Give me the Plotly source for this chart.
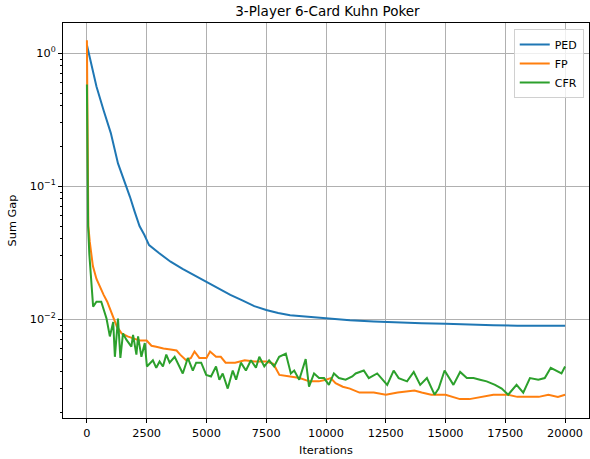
import plotly.graph_objects as go

# ---------------- data ----------------
ped_iters = [0, 200, 400, 700, 1000, 1300, 1500, 1800, 2000, 2200, 2400, 2600, 3000, 3500, 4000,
             4500, 5000, 5500, 6000, 6500, 7000, 7500, 8000, 8500, 9000, 10000, 11000, 12000,
             13000, 14000, 15000, 16000, 17000, 18000, 19000, 20000]
ped_vals = [1.15, 0.80, 0.56, 0.37, 0.25, 0.148, 0.118, 0.083, 0.064, 0.050, 0.043, 0.036, 0.0315,
            0.027, 0.0238, 0.0212, 0.0191, 0.0170, 0.0152, 0.0138, 0.0125, 0.0117, 0.0111, 0.0107,
            0.0105, 0.0101, 0.0098, 0.0096, 0.0094, 0.0093, 0.0092, 0.00905, 0.0090, 0.0089,
            0.0089, 0.0089]

fp_iters = [0, 60, 120, 250, 400, 550, 700, 850, 1000, 1100, 1250, 1450, 1700, 2000, 2200, 2500,
            2700, 2900, 3200, 3500, 3750, 3900, 4150, 4350, 4500, 4700, 5000, 5150, 5400, 5600,
            5800, 6200, 6600, 7000, 7500, 7800, 8050, 8500, 8900, 9300, 9700, 10000, 10200, 10400,
            10700, 11000, 11400, 12000, 12500, 13000, 13700, 14000, 14400, 15000, 15300, 15600,
            16000, 16600, 17000, 17600, 18000, 18500, 18900, 19300, 19700, 20000]
fp_vals = [1.25, 0.05, 0.038, 0.025, 0.020, 0.0172, 0.0152, 0.0135, 0.0115, 0.0101, 0.0088, 0.0078,
           0.0074, 0.0071, 0.0069, 0.0069, 0.0063, 0.0062, 0.0060, 0.0059, 0.0058, 0.0054, 0.0049,
           0.0051, 0.0057, 0.0051, 0.0051, 0.0057, 0.0052, 0.0052, 0.0047, 0.0047, 0.0049, 0.0048,
           0.0048, 0.0046, 0.0038, 0.0037, 0.0036, 0.0034, 0.0034, 0.0035, 0.0036, 0.0033, 0.0031,
           0.0030, 0.0028, 0.0028, 0.0027, 0.0028, 0.0029, 0.0028, 0.0027, 0.0027, 0.0026, 0.0025,
           0.0025, 0.0026, 0.0027, 0.0027, 0.0026, 0.0026, 0.0026, 0.0027, 0.0026, 0.0027]

cfr_iters = [0, 50, 100, 180, 260, 400, 600, 820, 960, 1100, 1170, 1300, 1400, 1510, 1650, 1860,
             1930, 2070, 2140, 2280, 2420, 2510, 2760, 2900, 3040, 3180, 3320, 3460, 3670, 4010,
             4220, 4430, 4570, 4780, 4990, 5190, 5400, 5540, 5680, 5890, 6100, 6240, 6440, 6650,
             6860, 7070, 7210, 7420, 7620, 7830, 8040, 8320, 8530, 8670, 8880, 9150, 9290, 9500,
             9710, 9920, 10120, 10330, 10540, 10820, 11100, 11240, 11580, 11790, 12140, 12560,
             12830, 13040, 13390, 13670, 13940, 14220, 14540, 14710, 14960, 15330, 15610, 15890,
             16170, 16440, 16720, 17070, 17350, 17620, 17970, 18250, 18530, 18880, 19150, 19400,
             19640, 19850, 20000]
cfr_vals = [0.58, 0.05, 0.031, 0.018, 0.0124, 0.0135, 0.0135, 0.0101, 0.0074, 0.0095, 0.0052,
            0.0101, 0.0051, 0.0078, 0.0070, 0.0062, 0.0076, 0.0054, 0.0074, 0.0052, 0.0066, 0.0044,
            0.0049, 0.0043, 0.0048, 0.0044, 0.0054, 0.0047, 0.0052, 0.0039, 0.0051, 0.0041, 0.0047,
            0.0047, 0.0038, 0.0037, 0.0044, 0.0035, 0.0039, 0.0030, 0.0041, 0.0035, 0.0047, 0.0041,
            0.0049, 0.0043, 0.0052, 0.0044, 0.0049, 0.0044, 0.0052, 0.0055, 0.0039, 0.0041, 0.0035,
            0.0050, 0.0031, 0.0039, 0.0036, 0.0036, 0.0032, 0.0039, 0.0036, 0.0035, 0.0037, 0.0039,
            0.0041, 0.0036, 0.0039, 0.0032, 0.0041, 0.0036, 0.0034, 0.0040, 0.0032, 0.0036, 0.0027,
            0.0030, 0.0041, 0.0032, 0.0040, 0.0036, 0.0036, 0.0035, 0.0034, 0.0032, 0.0030, 0.0027,
            0.0032, 0.0028, 0.0036, 0.0035, 0.0036, 0.0043, 0.0041, 0.0039, 0.0044]

x_ticks = [0, 2500, 5000, 7500, 10000, 12500, 15000, 17500, 20000]
x_tick_labels = ["0", "2500", "5000", "7500", "10000", "12500", "15000", "17500", "20000"]
y_ticks = [0.01, 0.1, 1]
y_tick_labels = ["10<sup>\u22122</sup>", "10<sup>\u22121</sup>", "10<sup>0</sup>"]

series = [("PED", ped_iters, ped_vals, "#1f77b4"),
          ("FP", fp_iters, fp_vals, "#ff7f0e"),
          ("CFR", cfr_iters, cfr_vals, "#2ca02c")]

# ---------------- figure ----------------
fig = go.Figure()
for name, xs, ys, col in series:
    fig.add_trace(go.Scatter(x=xs, y=ys, mode="lines", name=name,
                             line=dict(color=col, width=2)))

minor_vals = [m * 10 ** e for e in (-3, -2, -1, 0) for m in range(2, 10)]

font = "DejaVu Sans"
fig.update_layout(
    width=590, height=459,
    margin=dict(l=63, r=1, t=23, b=41, autoexpand=False),
    paper_bgcolor="white", plot_bgcolor="white",
    font=dict(family=font, size=11.3, color="black"),
    title=dict(text="3-Player 6-Card Kuhn Poker", x=0.555, xanchor="center",
               y=1 - 11.5 / 459, yanchor="middle",
               font=dict(family=font, size=13.5, color="black")),
    showlegend=True,
    legend=dict(x=0.99, y=0.985, xanchor="right", yanchor="top", itemwidth=30,
                bgcolor="rgba(255,255,255,0.8)", bordercolor="#d0d0d0", borderwidth=1,
                font=dict(family=font, size=11), tracegroupgap=0),
)
fig.update_xaxes(
    range=[-1000, 21000], tickmode="array", tickvals=x_ticks, ticktext=x_tick_labels,
    ticks="outside", ticklen=4, tickcolor="black", automargin=False,
    tickfont=dict(size=11.3),
    showgrid=True, gridcolor="#b0b0b0", gridwidth=1, zeroline=False,
    showline=True, linecolor="black", linewidth=1, mirror=True,
    title=dict(text="Iterations", font=dict(family=font, size=11.3), standoff=7),
)
fig.update_yaxes(
    type="log", range=[-2.744, 0.226], tickmode="array",
    tickvals=y_ticks, ticktext=y_tick_labels, automargin=False,
    tickfont=dict(size=11.3),
    ticks="outside", ticklen=4, tickcolor="black",
    showgrid=True, gridcolor="#b0b0b0", gridwidth=1, zeroline=False,
    showline=True, linecolor="black", linewidth=1, mirror=True,
    minor=dict(tickvals=minor_vals, ticks="outside", ticklen=2, tickcolor="black",
               showgrid=False),
    title=dict(text="Sum Gap", font=dict(family=font, size=11.3), standoff=10),
)

fig.write_html("out.html", config={"displayModeBar": False},
               post_script="document.body.style.margin='0';")
